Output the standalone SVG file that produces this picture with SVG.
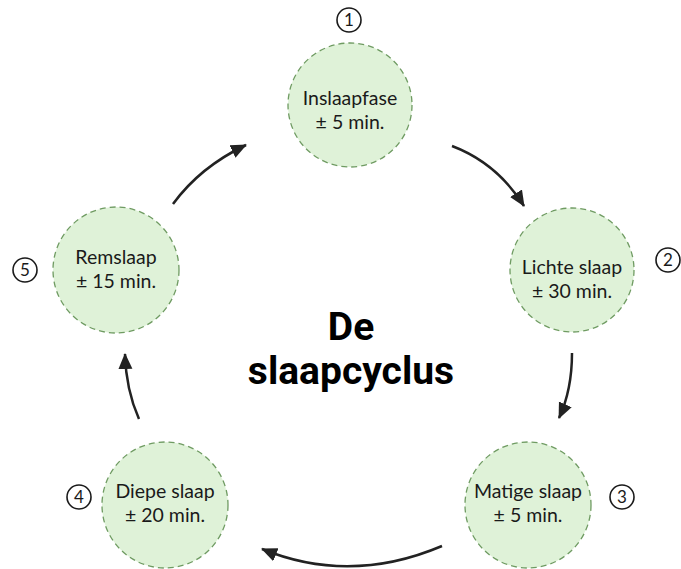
<svg xmlns="http://www.w3.org/2000/svg" width="681" height="569" viewBox="0 0 681 569">
<style>
.node{fill:#dff2d8;stroke:#6f9b62;stroke-width:1.3;stroke-dasharray:6 4}
.lbl{font-family:Lato,"Liberation Sans",sans-serif;font-size:19.5px;fill:#1a1a1a;text-anchor:middle}
.num{fill:none;stroke:#1a1a1a;stroke-width:1.6}
.numt{font-family:Lato,"Liberation Sans",sans-serif;font-size:17px;fill:#1a1a1a;text-anchor:middle}
.con{fill:none;stroke:#222;stroke-width:2.5}
.title{font-family:Roboto,"Liberation Sans",sans-serif;font-weight:700;font-size:39px;fill:#000;text-anchor:middle}
</style>
<defs>
<marker id="ah" markerUnits="userSpaceOnUse" markerWidth="16" markerHeight="16" viewBox="0 0 16 16" refX="15" refY="8" orient="auto">
<path d="M0,1 L16,8 L0,15 Z" fill="#222"/>
</marker>
</defs>
<rect width="681" height="569" fill="#fff"/>
<g id="connectors">
<path class="con" d="M452,146 Q497,163 524,206" marker-end="url(#ah)"/>
<path class="con" d="M572,353 Q572,390 559,418" marker-end="url(#ah)"/>
<path class="con" d="M442,546 Q350,585 262,549" marker-end="url(#ah)"/>
<path class="con" d="M139,419 Q126,390 125,354" marker-end="url(#ah)"/>
<path class="con" d="M173,204 Q200,167 246,145" marker-end="url(#ah)"/>
</g>
<g id="node1">
<circle class="node" cx="350" cy="105" r="62"/>
<text class="lbl" x="350" y="105">Inslaapfase</text>
<text class="lbl" x="350" y="129">± 5 min.</text>
<circle class="num" cx="349" cy="20" r="12"/>
<text class="numt" x="349" y="26">1</text>
</g>
<g id="node2">
<circle class="node" cx="572" cy="270" r="62"/>
<text class="lbl" x="572" y="274">Lichte slaap</text>
<text class="lbl" x="572" y="298">± 30 min.</text>
<circle class="num" cx="668" cy="260" r="12"/>
<text class="numt" x="668" y="266">2</text>
</g>
<g id="node3">
<circle class="node" cx="528" cy="505" r="63"/>
<text class="lbl" x="528" y="498">Matige slaap</text>
<text class="lbl" x="528" y="522">± 5 min.</text>
<circle class="num" cx="622" cy="497" r="12"/>
<text class="numt" x="622" y="503">3</text>
</g>
<g id="node4">
<circle class="node" cx="165" cy="505" r="63"/>
<text class="lbl" x="165" y="498">Diepe slaap</text>
<text class="lbl" x="165" y="522">± 20 min.</text>
<circle class="num" cx="79" cy="497" r="12"/>
<text class="numt" x="79" y="503">4</text>
</g>
<g id="node5">
<circle class="node" cx="116" cy="270" r="63"/>
<text class="lbl" x="116" y="264">Remslaap</text>
<text class="lbl" x="116" y="288">± 15 min.</text>
<circle class="num" cx="25" cy="270" r="12"/>
<text class="numt" x="25" y="276">5</text>
</g>
<g id="title">
<text class="title" x="351" y="340">De</text>
<text class="title" x="351" y="384">slaapcyclus</text>
</g>
</svg>
